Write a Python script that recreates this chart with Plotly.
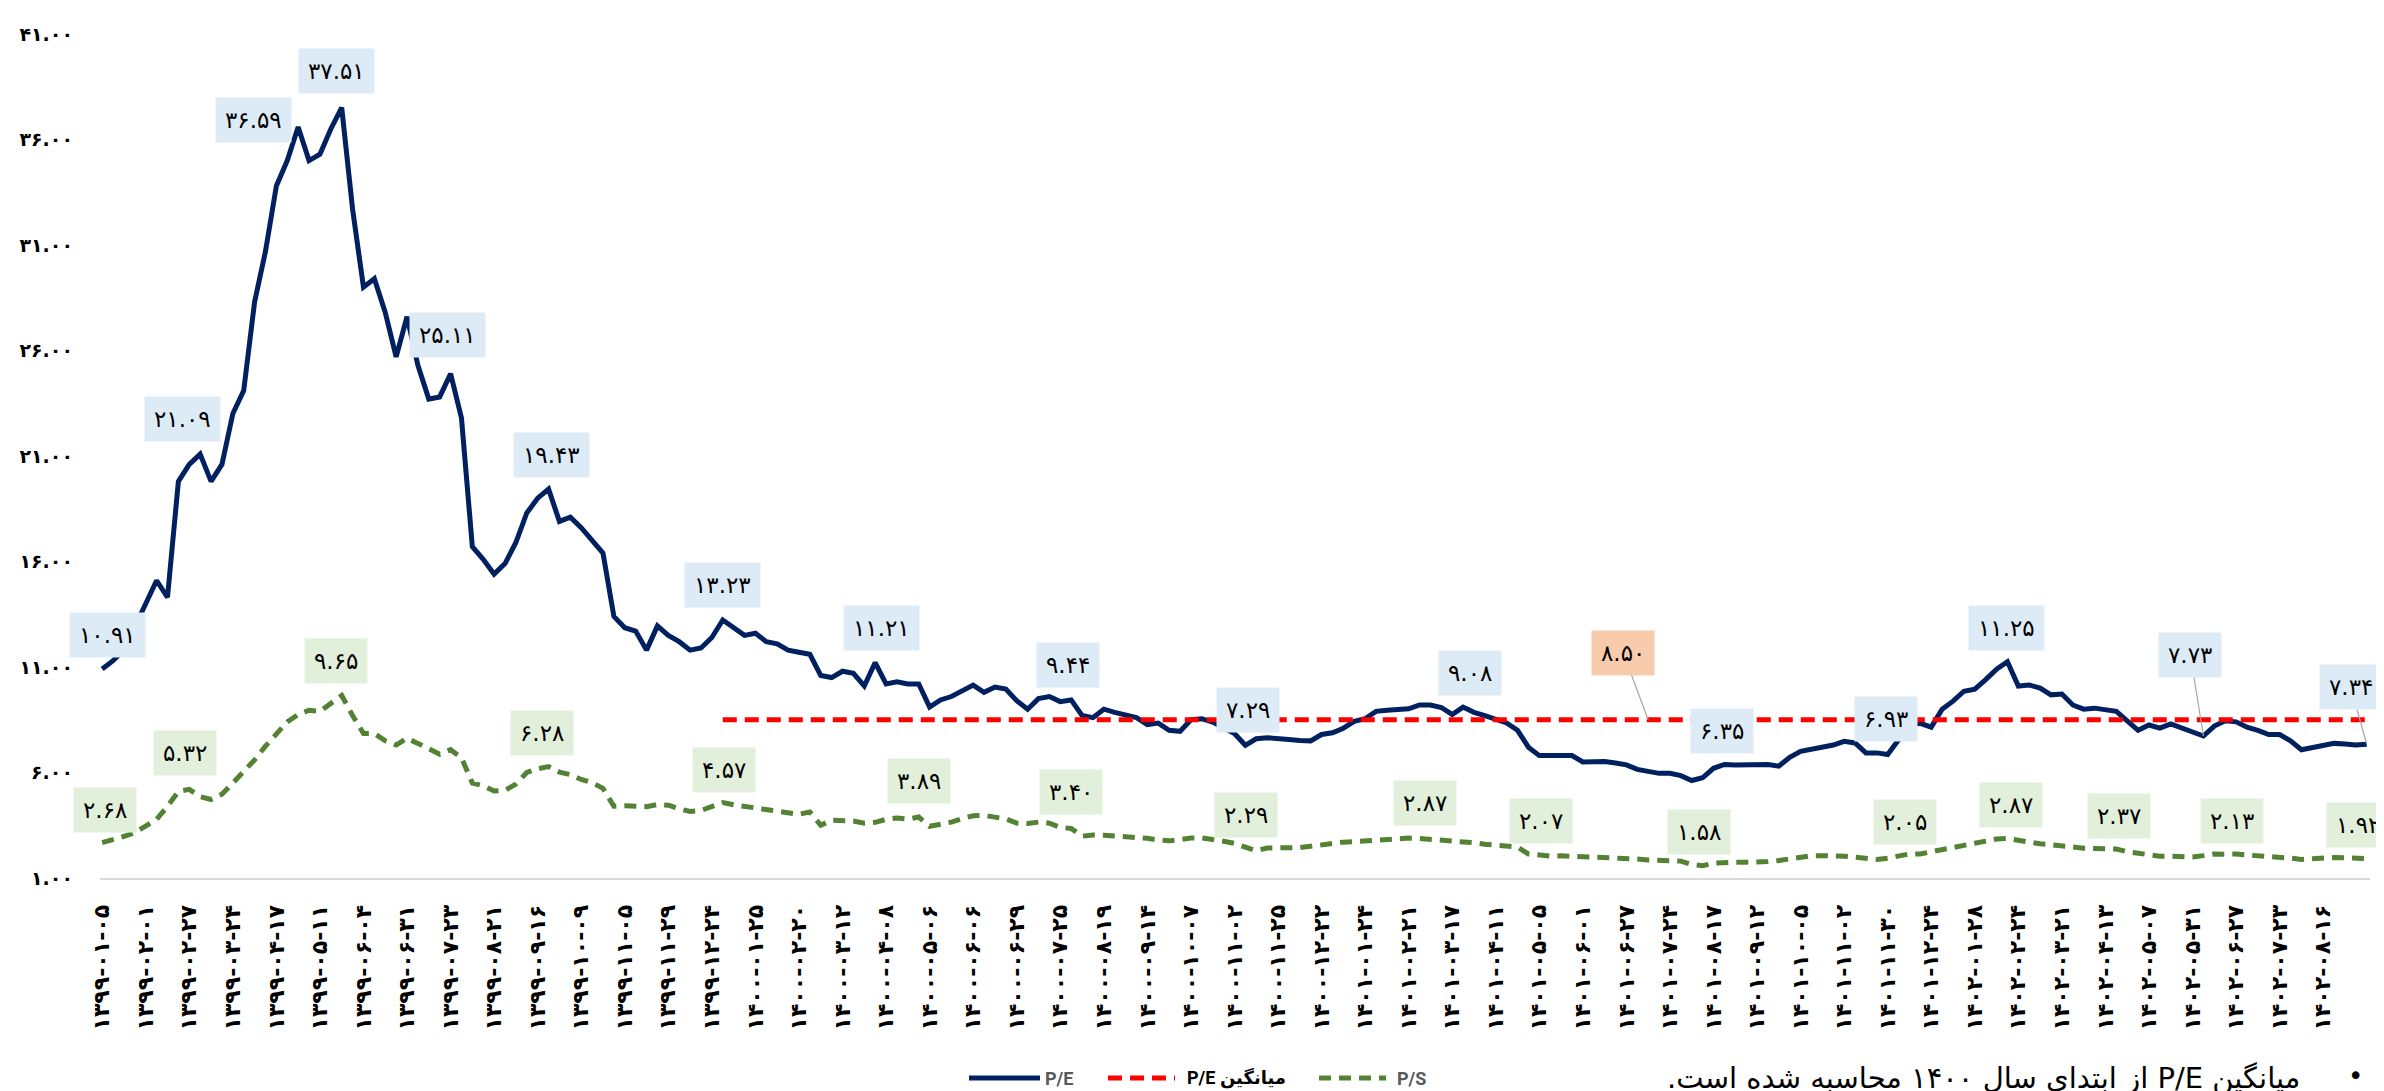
import plotly.graph_objects as go

FA = str.maketrans("0123456789", "۰۱۲۳۴۵۶۷۸۹")


def fa(s):
    return s.translate(FA)


# ---------------- data ----------------
tick_dates = [
    "1399-01-05", "1399-02-01", "1399-02-27", "1399-03-24", "1399-04-17", "1399-05-11",
    "1399-06-04", "1399-06-31", "1399-07-23", "1399-08-21", "1399-09-16", "1399-10-09",
    "1399-11-05", "1399-11-29", "1399-12-24", "1400-01-25", "1400-02-20", "1400-03-12",
    "1400-04-08", "1400-05-06", "1400-06-06", "1400-06-29", "1400-07-25", "1400-08-19",
    "1400-09-14", "1400-10-07", "1400-11-02", "1400-11-25", "1400-12-22", "1401-01-24",
    "1401-02-21", "1401-03-17", "1401-04-11", "1401-05-05", "1401-06-01", "1401-06-27",
    "1401-07-24", "1401-08-17", "1401-09-12", "1401-10-05", "1401-11-02", "1401-11-30",
    "1401-12-24", "1402-01-28", "1402-02-24", "1402-03-21", "1402-04-13", "1402-05-07",
    "1402-05-31", "1402-06-27", "1402-07-23", "1402-08-16",
]
points_per_tick = 4

pe = [
    10.91, 11.3, 11.8, 12.9,
    14.1, 15.1, 14.3, 19.8,
    20.6, 21.09, 19.8, 20.6,
    23.0, 24.1, 28.3, 30.7,
    33.8, 35.0, 36.59, 35.0,
    35.3, 36.5, 37.51, 32.7,
    29.0, 29.4, 27.8, 25.7,
    27.6, 25.3, 23.7, 23.8,
    24.9, 22.8, 16.7, 16.1,
    15.4, 15.9, 16.9,
    18.3, 19.0, 19.43, 17.9,
    18.1, 17.6, 17.0, 16.4,
    13.4, 12.86, 12.7, 11.8,
    12.95, 12.5, 12.2, 11.8,
    11.9, 12.4, 13.23, 12.9,
    12.5, 12.6, 12.2, 12.1,
    11.8, 11.7, 11.6, 10.6,
    10.5, 10.8, 10.7, 10.1,
    11.21, 10.2, 10.3, 10.2,
    10.2, 9.1, 9.44, 9.6,
    9.85, 10.14, 9.8, 10.05,
    9.95, 9.4, 9.0, 9.5,
    9.6, 9.36, 9.44, 8.7,
    8.6, 9.0, 8.85, 8.7,
    8.6, 8.27, 8.34, 8.0,
    7.95, 8.5, 8.55, 8.39,
    8.15, 7.85, 7.29, 7.6,
    7.65, 7.58, 7.56, 7.52,
    7.5, 7.8, 7.88, 8.1,
    8.42, 8.55, 8.9,
    8.95, 8.98, 9.02, 9.2,
    9.2, 9.08, 8.75, 9.1,
    8.85, 8.7, 8.5, 8.35,
    8.0, 7.2, 6.8, 6.8,
    6.85, 6.8, 6.5, 6.52,
    6.52, 6.45, 6.36, 6.15,
    6.05, 5.96, 5.96, 5.85,
    5.62, 5.75, 6.2, 6.38,
    6.35, 6.35, 6.36, 6.38,
    6.3, 6.72, 7.0, 7.1,
    7.2, 7.3, 7.48, 7.4,
    6.93, 6.93, 6.85, 7.6,
    8.25, 8.33, 8.15, 9.0,
    9.38, 9.85, 9.95, 10.4,
    10.9, 11.25, 10.1, 10.15,
    10.0, 9.68, 9.72, 9.2,
    9.0, 9.05, 9.0, 8.9,
    8.45, 8.0, 8.25, 8.1,
    8.3, 8.1, 7.95, 7.73,
    8.2, 8.45, 8.4,
    8.15, 8.0, 7.8, 7.8,
    7.5, 7.08, 7.2, 7.32,
    7.38, 7.35, 7.3, 7.34,
]

ps = [
    2.68, 2.8, 2.97, 3.15,
    3.45, 3.78, 4.4, 5.1,
    5.2, 4.85, 4.72, 4.97,
    5.5, 6.05, 6.6, 7.25,
    7.85, 8.4, 8.75, 8.95,
    8.9, 9.3, 9.65, 8.7,
    7.85, 7.85, 7.5, 7.3,
    7.62, 7.38, 7.12, 6.87,
    7.08, 6.7, 5.5, 5.37,
    5.12, 5.15, 5.45,
    6.0, 6.18, 6.28, 6.02,
    5.9, 5.67, 5.52, 5.25,
    4.4, 4.42, 4.38, 4.38,
    4.48, 4.45, 4.28, 4.15,
    4.2, 4.4, 4.57, 4.47,
    4.4, 4.33, 4.25, 4.15,
    4.07, 4.02, 4.13, 3.5,
    3.74, 3.74, 3.7, 3.6,
    3.64, 3.78, 3.84, 3.79,
    3.89, 3.45, 3.55, 3.65,
    3.82, 3.95, 3.97, 3.88,
    3.8, 3.6, 3.58, 3.65,
    3.6, 3.4, 3.35, 2.98,
    3.04, 3.03, 3.0, 2.95,
    2.9, 2.88, 2.8, 2.76,
    2.82, 2.9, 2.9, 2.84,
    2.74, 2.64, 2.48, 2.29,
    2.42, 2.42, 2.42, 2.44,
    2.5, 2.58, 2.65, 2.7,
    2.72, 2.75, 2.8,
    2.84, 2.87, 2.89, 2.87,
    2.84, 2.8, 2.76, 2.71,
    2.67, 2.6, 2.55, 2.52,
    2.47, 2.14, 2.07, 2.04,
    2.05, 2.03, 2.03, 2.03,
    1.99, 1.95, 1.94, 1.9,
    1.85, 1.83, 1.83, 1.8,
    1.64, 1.58, 1.7, 1.75,
    1.75, 1.75, 1.75, 1.78,
    1.83, 1.91, 1.99, 2.06,
    2.06, 2.06, 2.03, 1.99,
    1.92, 1.88, 1.94, 2.05,
    2.14, 2.14, 2.25, 2.38,
    2.45, 2.58, 2.65, 2.75,
    2.85, 2.87, 2.78, 2.66,
    2.62, 2.58, 2.52, 2.48,
    2.41, 2.4, 2.38, 2.37,
    2.25, 2.19, 2.09, 2.03,
    2.03, 2.0, 2.0, 2.06,
    2.14, 2.13, 2.14,
    2.09, 2.06, 2.03, 1.99,
    1.94, 1.88, 1.93, 1.97,
    1.97, 1.96, 1.94, 1.92,
]

pe_mean = 8.50
pe_mean_start = 57  # first point of 1400

y_ticks = [1, 6, 11, 16, 21, 26, 31, 36, 41]

# labelled points (index into series, shown text)
pe_label_idx = [0, 9, 18, 22, 29, 41, 57, 71, 89, 105, 123, 150, 162, 175, 193, 208]
pe_label_txt = ["10.91", "21.09", "36.59", "37.51", "25.11", "19.43", "13.23", "11.21",
                "9.44", "7.29", "9.08", "6.35", "6.93", "11.25", "7.73", "7.34"]
ps_label_idx = [0, 8, 22, 41, 57, 75, 89, 106, 120, 132, 147, 165, 175, 185, 195, 208]
ps_label_txt = ["2.68", "5.32", "9.65", "6.28", "4.57", "3.89", "3.40", "2.29",
                "2.87", "2.07", "1.58", "2.05", "2.87", "2.37", "2.13", "1.92"]
mean_label_idx = 142
mean_label_txt = "8.50"

legend_names = ["P/E", "P/E میانگین", "P/S"]
note_text = "میانگین P/E از ابتدای سال ۱۴۰۰ محاسبه شده است."

# ---------------- styling ----------------
pe_label_off = [(5, -34), (-18, -35), (-45, -7), (-5, -37), (30, -30), (3, -34), (0, -35),
                (6, -35), (-3, -35), (3, -35), (29, -35), (-13, -34), (20, -34), (-1, -34),
                (-13, -81), (-16, -57)]
pe_label_leader = [False] * 14 + [True, True]
ps_label_off = [(3, -33), (-4, -36), (-6, -34), (-7, -34), (1, -33), (0, -36), (0, -36),
                (-10, -36), (16, -35), (2, -34), (-4, -34), (6, -34), (4, -34), (3, -33),
                (7, -33), (-9, -34)]
mean_label_off = (-25, -67)

FONT = "DejaVu Sans"
NAVY = "#002060"
RED = "#FF0000"
GREEN = "#548235"
RED_DASH = "14px,8px"
GREEN_DASH = "12px,8px"

PLOT_L, PLOT_W, PLOT_B, PLOT_H = 92, 2270, 870, 844
FIG_W, FIG_H = 2384, 1091

x = list(range(len(pe)))
x_ps = list(range(len(ps)))
x_mean = x[pe_mean_start:]

fig = go.Figure()
fig.add_trace(go.Scatter(
    x=x, y=pe, mode="lines", name=legend_names[0],
    line=dict(color=NAVY, width=5), hoverinfo="skip"))
fig.add_trace(go.Scatter(
    x=x_mean, y=[pe_mean] * len(x_mean), mode="lines", name=legend_names[1],
    line=dict(color=RED, width=5, dash=RED_DASH), hoverinfo="skip"))
fig.add_trace(go.Scatter(
    x=x_ps, y=ps, mode="lines", name=legend_names[2],
    line=dict(color=GREEN, width=5, dash=GREEN_DASH), hoverinfo="skip"))

annotations = []


def box(xv, yv, text, off, bg, leader):
    return dict(
        x=xv, y=yv, xref="x", yref="y", text=fa(text), showarrow=True,
        ax=off[0], ay=off[1], axref="pixel", ayref="pixel",
        arrowhead=0, arrowwidth=1.2 if leader else 0.1,
        arrowcolor="#A6A6A6" if leader else "rgba(0,0,0,0)",
        bgcolor=bg, borderpad=9, font=dict(family=FONT, size=23, color="#000000"),
        standoff=0, startstandoff=0,
    )


for i, t, o, ld in zip(pe_label_idx, pe_label_txt, pe_label_off, pe_label_leader):
    annotations.append(box(i, pe[i], t, o, "#DDEBF7", ld))
for i, t, o in zip(ps_label_idx, ps_label_txt, ps_label_off):
    annotations.append(box(i, ps[i], t, o, "#E2EFDA", False))
annotations.append(box(mean_label_idx, pe_mean, mean_label_txt, mean_label_off, "#F8CBAD", True))


# ---- custom legend (line samples + labels) ----
def px_to_paper(px, py):
    return (px - PLOT_L) / PLOT_W, (PLOT_B - py) / PLOT_H


legend_y_px = 1070
legend_items = [
    (961, 1032, 1035, NAVY, "solid", "#595959"),
    (1100, 1167, 1177, RED, RED_DASH, "#000000"),
    (1311, 1378, 1387, GREEN, GREEN_DASH, "#595959"),
]
shapes = []
for (x0, x1, xt, col, dash, tcol), name in zip(legend_items, legend_names):
    px0, py = px_to_paper(x0, legend_y_px)
    px1, _ = px_to_paper(x1, legend_y_px)
    ptx, _ = px_to_paper(xt, legend_y_px)
    shapes.append(dict(type="line", xref="paper", yref="paper", x0=px0, x1=px1, y0=py, y1=py,
                       line=dict(color=col, width=5, dash=dash)))
    annotations.append(dict(x=ptx, y=py, xref="paper", yref="paper", text=f"<b>{name}</b>",
                            showarrow=False, xanchor="left", yanchor="middle",
                            font=dict(family="Roboto, DejaVu Sans", size=18, color=tcol)))

nx, ny = px_to_paper(2294, 1070)
bx, by = px_to_paper(2347, 1068)
annotations.append(dict(x=nx, y=ny, xref="paper", yref="paper",
                        text="\u202b" + note_text + "\u202c",
                        showarrow=False, xanchor="right", yanchor="middle",
                        font=dict(family=FONT, size=29, color="#000000")))
annotations.append(dict(x=bx, y=by, xref="paper", yref="paper", text="•",
                        showarrow=False, xanchor="center", yanchor="middle",
                        font=dict(family=FONT, size=26, color="#000000")))

tickvals = [k * points_per_tick for k in range(len(tick_dates))]

fig.update_layout(
    width=FIG_W, height=FIG_H,
    margin=dict(l=PLOT_L, r=FIG_W - PLOT_L - PLOT_W, t=PLOT_B - PLOT_H, b=FIG_H - PLOT_B),
    paper_bgcolor="white", plot_bgcolor="white",
    showlegend=False,
    annotations=annotations,
    shapes=shapes,
    xaxis=dict(
        range=[-0.2, 208.3], tickmode="array", tickvals=tickvals,
        ticktext=[fa(d) for d in tick_dates], tickangle=-90,
        tickfont=dict(family=FONT, size=22, color="#000000", weight="bold"),
        showgrid=False, zeroline=False, showline=True, linecolor="#D9D9D9", linewidth=2,
        ticks="", ticklabelstandoff=16,
    ),
    yaxis=dict(
        range=[1, 41], tickmode="array", tickvals=y_ticks,
        ticktext=[fa(f"{v:.2f}") for v in y_ticks],
        tickfont=dict(family=FONT, size=19, color="#000000", weight="bold"),
        showgrid=False, zeroline=False, showline=False, ticks="", ticklabelstandoff=26,
    ),
)

fig.write_html("out.html")
